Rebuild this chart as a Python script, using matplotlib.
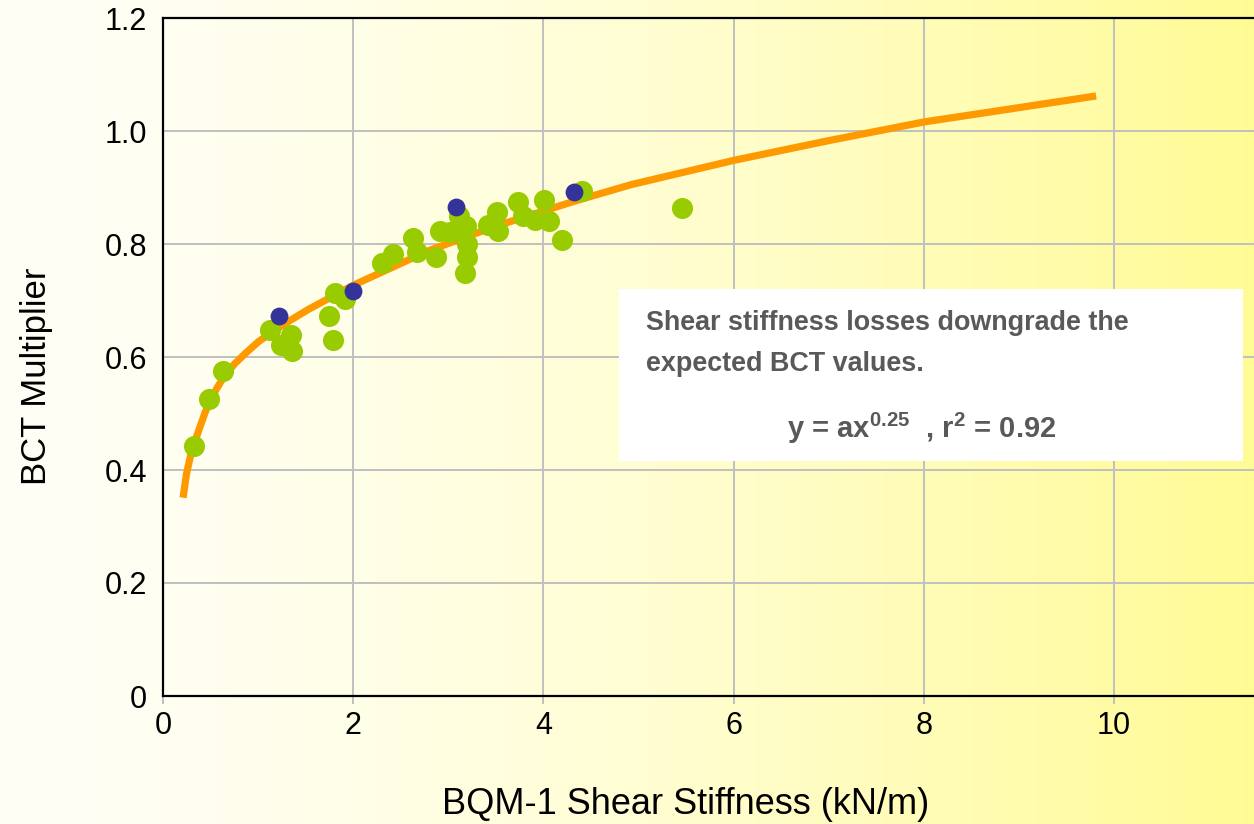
import matplotlib.pyplot as plt
import numpy as np
from matplotlib.patches import Rectangle

plt.rcParams["font.family"] = ["Liberation Sans", "DejaVu Sans"]
plt.rcParams["mathtext.default"] = "regular"

# Measured samples (green)
green_x = [0.33, 0.48, 0.63, 1.12, 1.24, 1.35, 1.36, 1.75, 1.79, 1.81,
           1.91, 2.30, 2.42, 2.63, 2.67, 2.87, 2.91, 3.02, 3.11, 3.19,
           3.20, 3.20, 3.18, 3.42, 3.51, 3.52, 3.73, 3.78, 3.91, 4.01,
           4.06, 4.20, 4.40, 5.46]
green_y = [0.442, 0.525, 0.576, 0.648, 0.621, 0.639, 0.611, 0.673, 0.630, 0.714,
           0.702, 0.766, 0.782, 0.811, 0.786, 0.777, 0.823, 0.822, 0.849, 0.831,
           0.800, 0.777, 0.748, 0.834, 0.856, 0.823, 0.874, 0.850, 0.843, 0.877,
           0.840, 0.807, 0.894, 0.863]

# Second group (blue)
blue_x = [1.22, 2.00, 3.08, 4.32]
blue_y = [0.673, 0.716, 0.865, 0.892]

# Trend line y = a*x^0.25
curve_x = [0.211, 0.247, 0.289, 0.340, 0.392, 0.443, 0.495, 0.567, 0.649, 0.753,
           0.876, 1.010, 1.165, 1.320, 1.526, 2.00, 2.79, 3.47, 4.33, 4.92,
           6.00, 7.00, 8.00, 9.81]
curve_y = [0.351, 0.393, 0.425, 0.453, 0.478, 0.502, 0.522, 0.545, 0.567, 0.588,
           0.608, 0.628, 0.646, 0.663, 0.684, 0.727, 0.788, 0.830, 0.876, 0.905,
           0.948, 0.983, 1.016, 1.062]

x_ticks = [0, 2, 4, 6, 8, 10]
y_ticks = [0, 0.2, 0.4, 0.6, 0.8, 1.0, 1.2]
y_tick_labels = ["0", "0.2", "0.4", "0.6", "0.8", "1.0", "1.2"]

note_line1 = "Shear stiffness losses downgrade the"
note_line2 = "expected BCT values."
equation = r"y = ax$^{0.25}$  , r$^{2}$ = 0.92"

fig = plt.figure(figsize=(12.54, 8.24), dpi=100)

# White-to-yellow horizontal background gradient
bg_ax = fig.add_axes([0, 0, 1, 1], zorder=-10)
t = np.linspace(0, 1, 1254)
f = t ** 1.5
start = np.array([255, 255, 246]) / 255
end = np.array([255, 251, 148]) / 255
row = start[None, :] * (1 - f[:, None]) + end[None, :] * f[:, None]
bg_ax.imshow(row[None, :, :], aspect="auto", extent=[0, 1, 0, 1],
             interpolation="bilinear")
bg_ax.axis("off")

ax = fig.add_axes([163 / 1254, 128 / 824, 1091 / 1254, 678 / 824])
ax.set_facecolor("none")

ax.plot(curve_x, curve_y, color="#FF9900", linewidth=5.2,
        solid_joinstyle="round", solid_capstyle="butt", zorder=3)
ax.scatter(green_x, green_y, s=230, color="#99CC00", linewidths=0, zorder=4)
ax.scatter(blue_x, blue_y, s=165, color="#333399", linewidths=0, zorder=5)

ax.set_xlim(0, 11.47)
ax.set_ylim(0, 1.2)
ax.set_xticks(x_ticks)
ax.set_yticks(y_ticks)
ax.set_yticklabels(y_tick_labels)

ax.grid(True, color="#C0C0C0", linewidth=1.4, zorder=0)
ax.set_axisbelow(True)

ax.tick_params(axis="x", length=6, width=1.4, color="#C0C0C0",
               labelsize=22, pad=5)
ax.tick_params(axis="y", length=0, labelsize=22, pad=11.5)

for side in ["left", "bottom", "top"]:
    ax.spines[side].set_color("black")
    ax.spines[side].set_linewidth(1.6)
ax.spines["right"].set_visible(False)

ax.set_xlabel("BQM-1 Shear Stiffness (kN/m)", fontsize=26)
ax.xaxis.set_label_coords(0.479, -0.134)
ax.set_ylabel("BCT Multiplier", fontsize=25)
ax.yaxis.set_label_coords(-0.101, 0.472)

# Annotation box
ax.add_patch(Rectangle((0.418, 0.347), 0.572, 0.253, transform=ax.transAxes,
                       facecolor="white", edgecolor="none", zorder=6))
note_style = dict(transform=ax.transAxes, fontsize=19.4, fontweight="bold",
                  color="#595959", ha="left", va="center", zorder=7)
ax.text(0.4427, 0.550, note_line1, **note_style)
ax.text(0.4427, 0.490, note_line2, **note_style)
ax.text(0.695, 0.395, equation, transform=ax.transAxes,
        fontsize=21, fontweight="bold", color="#595959",
        va="center", ha="center", zorder=7)

fig.savefig("out.png", dpi=100)
